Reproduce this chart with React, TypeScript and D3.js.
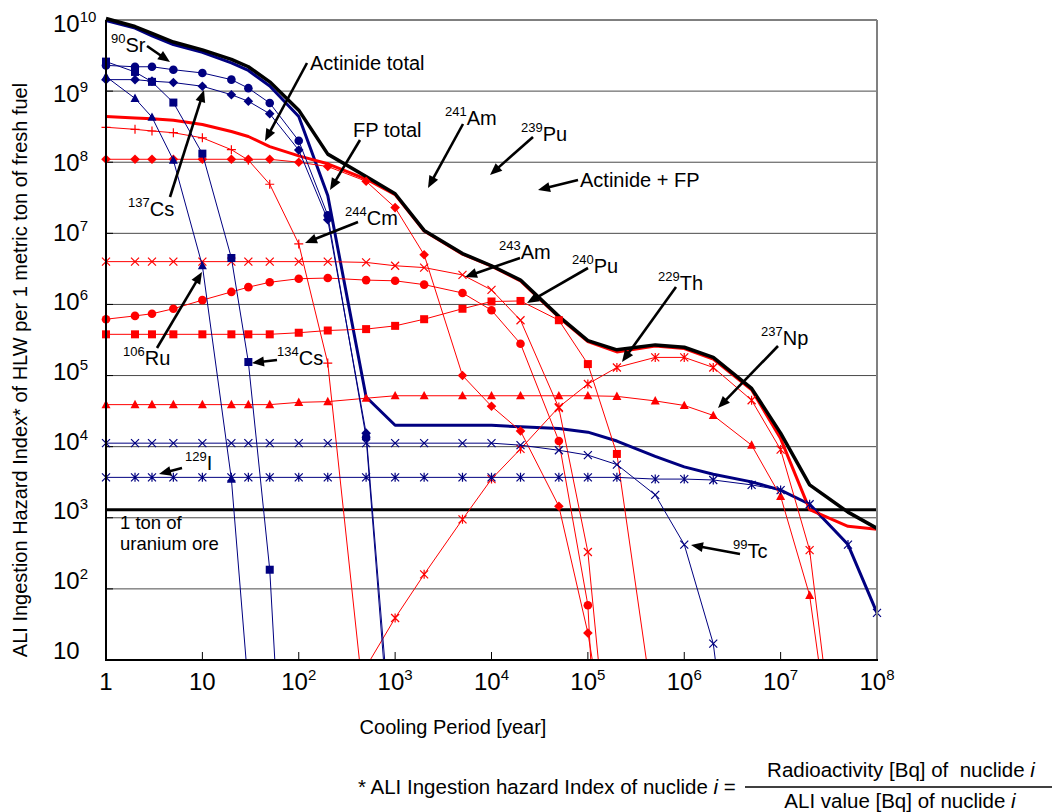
import React from "react";
import * as d3 from "d3";

const W = 1056;
const H = 812;
const FONT = "'Liberation Sans', Arial, Helvetica, sans-serif";
const RED = "#ff0000";
const NAVY = "#000080";

// Cooling period sample points [year]
const TIMES = [1, 2, 3, 5, 10, 20, 30, 50, 100, 200, 500, 1e3, 2e3, 5e3, 1e4, 2e4, 5e4, 1e5, 2e5, 5e5, 1e6, 2e6, 5e6, 1e7, 2e7, 5e7, 1e8];

// Totals
const actinidePlusFP = [1.05e10, 8.1e9, 6.5e9, 4.9e9, 3.8e9, 2.8e9, 2.2e9, 1.35e9, 5.4e8, 1.3e8, 6.3e7, 3.6e7, 1.1e7, 5.2e6, 3.5e6, 2.2e6, 6.8e5, 3.1e5, 2.3e5, 2.7e5, 2.5e5, 1.8e5, 6.6e4, 1.55e4, 2.9e3, 1.2e3, 7.1e2];
const actinideTotal = [4.4e8, 4.2e8, 4.1e8, 3.9e8, 3.4e8, 2.7e8, 2.3e8, 1.66e8, 1.23e8, 9.5e7, 5.8e7, 3.5e7, 1.08e7, 5.1e6, 3.45e6, 2.15e6, 6.6e5, 3.0e5, 2.15e5, 2.6e5, 2.4e5, 1.7e5, 6.3e4, 1.3e4, 1.3e3, 7.6e2, 6.9e2];
const fpTotal = [9.8e9, 7.7e9, 6.0e9, 4.5e9, 3.5e9, 2.5e9, 1.95e9, 1.18e9, 4.4e8, 3.4e7, 5.0e4, 2.0e4, 2.0e4, 2.0e4, 2.0e4, 1.9e4, 1.8e4, 1.6e4, 1.2e4, 7.3e3, 5.2e3, 4.1e3, 3.2e3, 2.45e3, 1.55e3, 4.2e2, 46];

// Fission products
const sr90 = [2.3e9, 2.2e9, 2.2e9, 2.0e9, 1.8e9, 1.45e9, 1.1e9, 6.8e8, 2.0e8, 1.8e7, 1.35e4, 0.08];
const cs137 = [1.45e9, 1.45e9, 1.38e9, 1.32e9, 1.17e9, 8.9e8, 7.2e8, 4.8e8, 1.48e8, 1.55e7, 1.55e4, 0.16];
const cs134 = [2.6e9, 1.86e9, 1.35e9, 6.9e8, 1.32e8, 4.5e6, 1.55e5, 186, 1e-5];
const ru106 = [1.6e9, 7.9e8, 4.3e8, 1.07e8, 3.5e6, 3.5e3, 4];
const i129 = [3.7e3, 3.7e3, 3.7e3, 3.7e3, 3.7e3, 3.7e3, 3.7e3, 3.7e3, 3.7e3, 3.7e3, 3.7e3, 3.7e3, 3.7e3, 3.7e3, 3.7e3, 3.7e3, 3.7e3, 3.7e3, 3.7e3, 3.5e3, 3.5e3, 3.4e3, 2.9e3, 2.45e3, 1.55e3, 4.2e2, 46];
const tc99 = [1.12e4, 1.12e4, 1.12e4, 1.12e4, 1.12e4, 1.12e4, 1.12e4, 1.12e4, 1.12e4, 1.12e4, 1.12e4, 1.12e4, 1.12e4, 1.12e4, 1.12e4, 1.05e4, 8.9e3, 7.6e3, 5.6e3, 2.1e3, 4.2e2, 17, 1e-3];

// Actinides
const cm244 = [3.1e8, 2.9e8, 2.75e8, 2.6e8, 2.2e8, 1.5e8, 1.07e8, 4.9e7, 7.1e6, 1.5e5, 1.3];
const am241 = [1.1e8, 1.1e8, 1.1e8, 1.1e8, 1.1e8, 1.1e8, 1.1e8, 1.1e8, 1.0e8, 8.7e7, 5.4e7, 2.3e7, 5.0e6, 1.0e5, 3.7e4, 1.66e4, 1.45e3, 24, 0.08];
const am243 = [4.0e6, 4.0e6, 4.0e6, 4.0e6, 4.0e6, 4.0e6, 4.0e6, 4.0e6, 4.0e6, 4.0e6, 3.9e6, 3.5e6, 3.3e6, 2.6e6, 1.6e6, 6.0e5, 3.5e4, 330, 0.02];
const puCircle = [6.2e5, 6.9e5, 7.4e5, 8.7e5, 1.15e6, 1.5e6, 1.75e6, 2.05e6, 2.3e6, 2.35e6, 2.2e6, 2.15e6, 1.9e6, 1.45e6, 8.3e5, 2.8e5, 1.2e4, 59, 1e-6];
const puSquare = [3.8e5, 3.8e5, 3.8e5, 3.8e5, 3.8e5, 3.8e5, 3.8e5, 3.8e5, 4.0e5, 4.3e5, 4.5e5, 5.0e5, 6.2e5, 8.7e5, 1.1e6, 1.12e6, 6.0e5, 1.45e5, 7.9e3, 1.35];
const np237 = [3.9e4, 3.9e4, 3.9e4, 3.9e4, 3.9e4, 3.9e4, 3.9e4, 3.9e4, 4.2e4, 4.3e4, 4.8e4, 5.2e4, 5.2e4, 5.2e4, 5.2e4, 5.2e4, 5.2e4, 5.2e4, 5.1e4, 4.4e4, 3.8e4, 2.75e4, 1.05e4, 2.0e3, 81, 0.01];
const th229 = [null, null, null, null, null, null, null, null, null, null, 8, 39, 160, 950, 3.5e3, 9.3e3, 3.6e4, 7.6e4, 1.3e5, 1.8e5, 1.8e5, 1.3e5, 4.5e4, 9.1e3, 350, 0.013];

const URANIUM_ORE = 1.3e3;

const X_TICKS = [1, 10, 1e2, 1e3, 1e4, 1e5, 1e6, 1e7, 1e8];
const Y_TICKS = [10, 1e2, 1e3, 1e4, 1e5, 1e6, 1e7, 1e8, 1e9, 1e10];

type MarkerType = "none" | "circle" | "square" | "diamond" | "triangle" | "x" | "star" | "plus";
interface Series { name: string; values: (number | null)[]; color: string; width: number; marker: MarkerType; }

const thickSeries: Series[] = [
  { name: "FP total", values: fpTotal, color: NAVY, width: 3, marker: "none" },
  { name: "Actinide total", values: actinideTotal, color: RED, width: 3, marker: "none" },
  { name: "Actinide + FP", values: actinidePlusFP, color: "#000000", width: 3.5, marker: "none" },
];

const thinSeries: Series[] = [
  { name: "229Th", values: th229, color: RED, width: 1, marker: "star" },
  { name: "237Np", values: np237, color: RED, width: 1, marker: "triangle" },
  { name: "Pu (square)", values: puSquare, color: RED, width: 1, marker: "square" },
  { name: "Pu (circle)", values: puCircle, color: RED, width: 1, marker: "circle" },
  { name: "243Am", values: am243, color: RED, width: 1, marker: "x" },
  { name: "241Am", values: am241, color: RED, width: 1, marker: "diamond" },
  { name: "244Cm", values: cm244, color: RED, width: 1, marker: "plus" },
  { name: "99Tc", values: tc99, color: NAVY, width: 1, marker: "x" },
  { name: "129I", values: i129, color: NAVY, width: 1, marker: "star" },
  { name: "106Ru", values: ru106, color: NAVY, width: 1, marker: "triangle" },
  { name: "134Cs", values: cs134, color: NAVY, width: 1, marker: "square" },
  { name: "137Cs", values: cs137, color: NAVY, width: 1, marker: "diamond" },
  { name: "90Sr", values: sr90, color: NAVY, width: 1, marker: "circle" },
];

// Annotation layout (pixels)
const isoLabels = [
  { sup: "90", main: "Sr", x: 111, y: 52, ax: [147, 46, 170, 62] },
  { sup: "137", main: "Cs", x: 128, y: 216, ax: [170, 197, 204, 90] },
  { sup: "106", main: "Ru", x: 123, y: 365, ax: [157, 348, 202, 272] },
  { sup: "134", main: "Cs", x: 277, y: 365, ax: [277, 360, 252, 363] },
  { sup: "129", main: "I", x: 185, y: 470, ax: [182, 468, 159, 474] },
  { sup: "99", main: "Tc", x: 733, y: 558, ax: [740, 554, 691, 545] },
  { sup: "244", main: "Cm", x: 345, y: 225, ax: [358, 222, 305, 243] },
  { sup: "241", main: "Am", x: 445, y: 125, ax: [463, 124, 428, 188] },
  { sup: "239", main: "Pu", x: 521, y: 141, ax: [533, 137, 490, 175] },
  { sup: "243", main: "Am", x: 499, y: 259, ax: [520, 258, 465, 277] },
  { sup: "240", main: "Pu", x: 572, y: 273, ax: [588, 268, 527, 303] },
  { sup: "229", main: "Th", x: 658, y: 290, ax: [676, 287, 622, 362] },
  { sup: "237", main: "Np", x: 761, y: 345, ax: [778, 346, 718, 408] },
  { sup: "", main: "Actinide total", x: 310, y: 70, ax: [307, 63, 265, 141] },
  { sup: "", main: "FP total", x: 353, y: 137, ax: [360, 140, 330, 190] },
  { sup: "", main: "Actinide + FP", x: 580, y: 187, ax: [578, 180, 538, 190] },
];

const PL = 106, PR = 877, PT = 20, PB = 660;

function Marker({ type, x, y, color }: { type: MarkerType; x: number; y: number; color: string }) {
  switch (type) {
    case "circle":
      return <circle cx={x} cy={y} r={4.3} fill={color} />;
    case "square":
      return <rect x={x - 4} y={y - 4} width={8} height={8} fill={color} />;
    case "diamond":
      return <path d={`M${x},${y - 4.8}L${x + 4.8},${y}L${x},${y + 4.8}L${x - 4.8},${y}Z`} fill={color} />;
    case "triangle":
      return <path d={`M${x},${y - 4.8}L${x + 4.5},${y + 3.6}L${x - 4.5},${y + 3.6}Z`} fill={color} />;
    case "x":
      return <path d={`M${x - 4},${y - 4}L${x + 4},${y + 4}M${x - 4},${y + 4}L${x + 4},${y - 4}`} stroke={color} strokeWidth={1.2} fill="none" />;
    case "star":
      return <path d={`M${x - 4},${y - 4}L${x + 4},${y + 4}M${x - 4},${y + 4}L${x + 4},${y - 4}M${x},${y - 4.5}L${x},${y + 4.5}`} stroke={color} strokeWidth={1.2} fill="none" />;
    case "plus":
      return <path d={`M${x - 4.5},${y}L${x + 4.5},${y}M${x},${y - 4.5}L${x},${y + 4.5}`} stroke={color} strokeWidth={1.2} fill="none" />;
    default:
      return null;
  }
}

function Arrow({ x1, y1, x2, y2 }: { x1: number; y1: number; x2: number; y2: number }) {
  const L = 12, hw = 5;
  const dx = x2 - x1, dy = y2 - y1;
  const len = Math.hypot(dx, dy);
  const ux = dx / len, uy = dy / len;
  const bx = x2 - ux * L, by = y2 - uy * L;
  const px = -uy * hw, py = ux * hw;
  return (
    <g>
      <line x1={x1} y1={y1} x2={bx + ux * 2} y2={by + uy * 2} stroke="#000" strokeWidth={2.6} />
      <path d={`M${x2},${y2}L${bx + px},${by + py}L${bx - px},${by - py}Z`} fill="#000" />
    </g>
  );
}

export default function App() {
  const x = d3.scaleLog().domain([1, 1e8]).range([PL, PR]);
  const y = d3.scaleLog().domain([10, 1e10]).range([PB, PT]);
  const yLabel = d3.scaleLog().domain([10, 1e10]).range([650, 23.5]);

  const pts = (s: Series) => s.values.map((v, i) => ({ t: TIMES[i], v }));
  const line = d3
    .line<{ t: number; v: number | null }>()
    .defined((d) => d.v != null && d.v > 0)
    .x((d) => x(d.t))
    .y((d) => y(d.v as number));

  const drawSeries = (s: Series, withMarkers: boolean) => (
    <g key={s.name}>
      <path d={line(pts(s)) || ""} fill="none" stroke={s.color} strokeWidth={s.width} strokeLinejoin="round" clipPath="url(#plotClip)" />
      {withMarkers &&
        pts(s)
          .filter((d) => d.v != null && d.v >= 10 && d.v <= 1.2e10)
          .map((d, i) => <Marker key={i} type={s.marker} x={x(d.t)} y={y(d.v as number)} color={s.color} />)}
    </g>
  );

  const exp = (v: number) => Math.round(Math.log10(v));

  return (
    <svg width={W} height={H} viewBox={`0 0 ${W} ${H}`} style={{ position: "absolute", left: 0, top: 0, fontFamily: FONT }}>
      <defs>
        <clipPath id="plotClip">
          <rect x={PL - 4} y={PT - 6} width={PR - PL + 8} height={PB - PT + 6} />
        </clipPath>
      </defs>
      <rect x={0} y={0} width={W} height={H} fill="#fff" />

      {/* gridlines */}
      {Y_TICKS.filter((v) => v > 10).map((v) => (
        <line key={v} x1={PL} x2={PR} y1={y(v)} y2={y(v)} stroke={v === 1e10 ? "#000" : "#4a4a4a"} strokeWidth={1} />
      ))}
      {/* y ticks */}
      {Y_TICKS.map((v) => (
        <line key={"yt" + v} x1={PL} x2={PL + 7} y1={y(v)} y2={y(v)} stroke="#000" strokeWidth={1} />
      ))}
      {/* x ticks */}
      {X_TICKS.map((v) => (
        <line key={"xt" + v} x1={x(v)} x2={x(v)} y1={PB} y2={PB - 8} stroke="#000" strokeWidth={1} />
      ))}

      {/* uranium ore reference */}
      <line x1={PL} x2={PR} y1={y(URANIUM_ORE)} y2={y(URANIUM_ORE)} stroke="#000" strokeWidth={3} />

      {thickSeries.map((s) => drawSeries(s, false))}
      {thinSeries.map((s) => drawSeries(s, true))}

      {/* frame */}
      <line x1={PR} x2={PR} y1={PT} y2={PB} stroke="#808080" strokeWidth={2} />
      <line x1={PL} x2={PL} y1={PT} y2={PB + 1} stroke="#000" strokeWidth={2} />
      <line x1={PL} x2={PR + 1} y1={PB} y2={PB} stroke="#000" strokeWidth={2} />

      {/* y tick labels */}
      {Y_TICKS.map((v) => (
        <text key={"yl" + v} x={53} y={yLabel(v) + 8.5} fontSize={24} fill="#000">
          10
          {exp(v) > 1 && (
            <tspan fontSize={15} dy={-10}>
              {exp(v)}
            </tspan>
          )}
        </text>
      ))}
      {/* x tick labels */}
      {X_TICKS.map((v) => (
        <text key={"xl" + v} x={x(v)} y={690} fontSize={24} textAnchor="middle" fill="#000">
          {v === 1 ? "1" : "10"}
          {exp(v) > 1 && (
            <tspan fontSize={15} dy={-10}>
              {exp(v)}
            </tspan>
          )}
        </text>
      ))}

      {/* annotations */}
      {isoLabels.map((l, i) => (
        <g key={"lab" + i}>
          <text x={l.x} y={l.y} fontSize={20} fill="#000">
            {l.sup && (
              <tspan fontSize={13} dy={-9}>
                {l.sup}
              </tspan>
            )}
            <tspan dy={l.sup ? 9 : 0}>{l.main}</tspan>
          </text>
          <Arrow x1={l.ax[0]} y1={l.ax[1]} x2={l.ax[2]} y2={l.ax[3]} />
        </g>
      ))}
      <text x={120} y={529} fontSize={18.5}>1 ton of</text>
      <text x={120} y={550} fontSize={18.5}>uranium ore</text>

      {/* axis titles */}
      <text transform="translate(27,370) rotate(-90)" textAnchor="middle" fontSize={20}>
        ALI Ingestion Hazard Index* of HLW per 1 metric ton of fresh fuel
      </text>
      <text x={453} y={734} textAnchor="middle" fontSize={20}>
        Cooling Period [year]
      </text>

      {/* footnote */}
      <text x={358} y={794} fontSize={20.5} style={{ whiteSpace: "pre" }}>
        {"* ALI Ingestion hazard Index of nuclide "}
        <tspan fontStyle="italic">i</tspan>
        {" ="}
      </text>
      <text x={901} y={777} fontSize={20.5} textAnchor="middle" style={{ whiteSpace: "pre" }}>
        {"Radioactivity [Bq] of  nuclide "}
        <tspan fontStyle="italic">i</tspan>
      </text>
      <line x1={745} x2={1052} y1={787} y2={787} stroke="#000" strokeWidth={1.5} />
      <text x={900} y={808} fontSize={20.5} textAnchor="middle" style={{ whiteSpace: "pre" }}>
        {"ALI value [Bq] of nuclide "}
        <tspan fontStyle="italic">i</tspan>
      </text>
    </svg>
  );
}
